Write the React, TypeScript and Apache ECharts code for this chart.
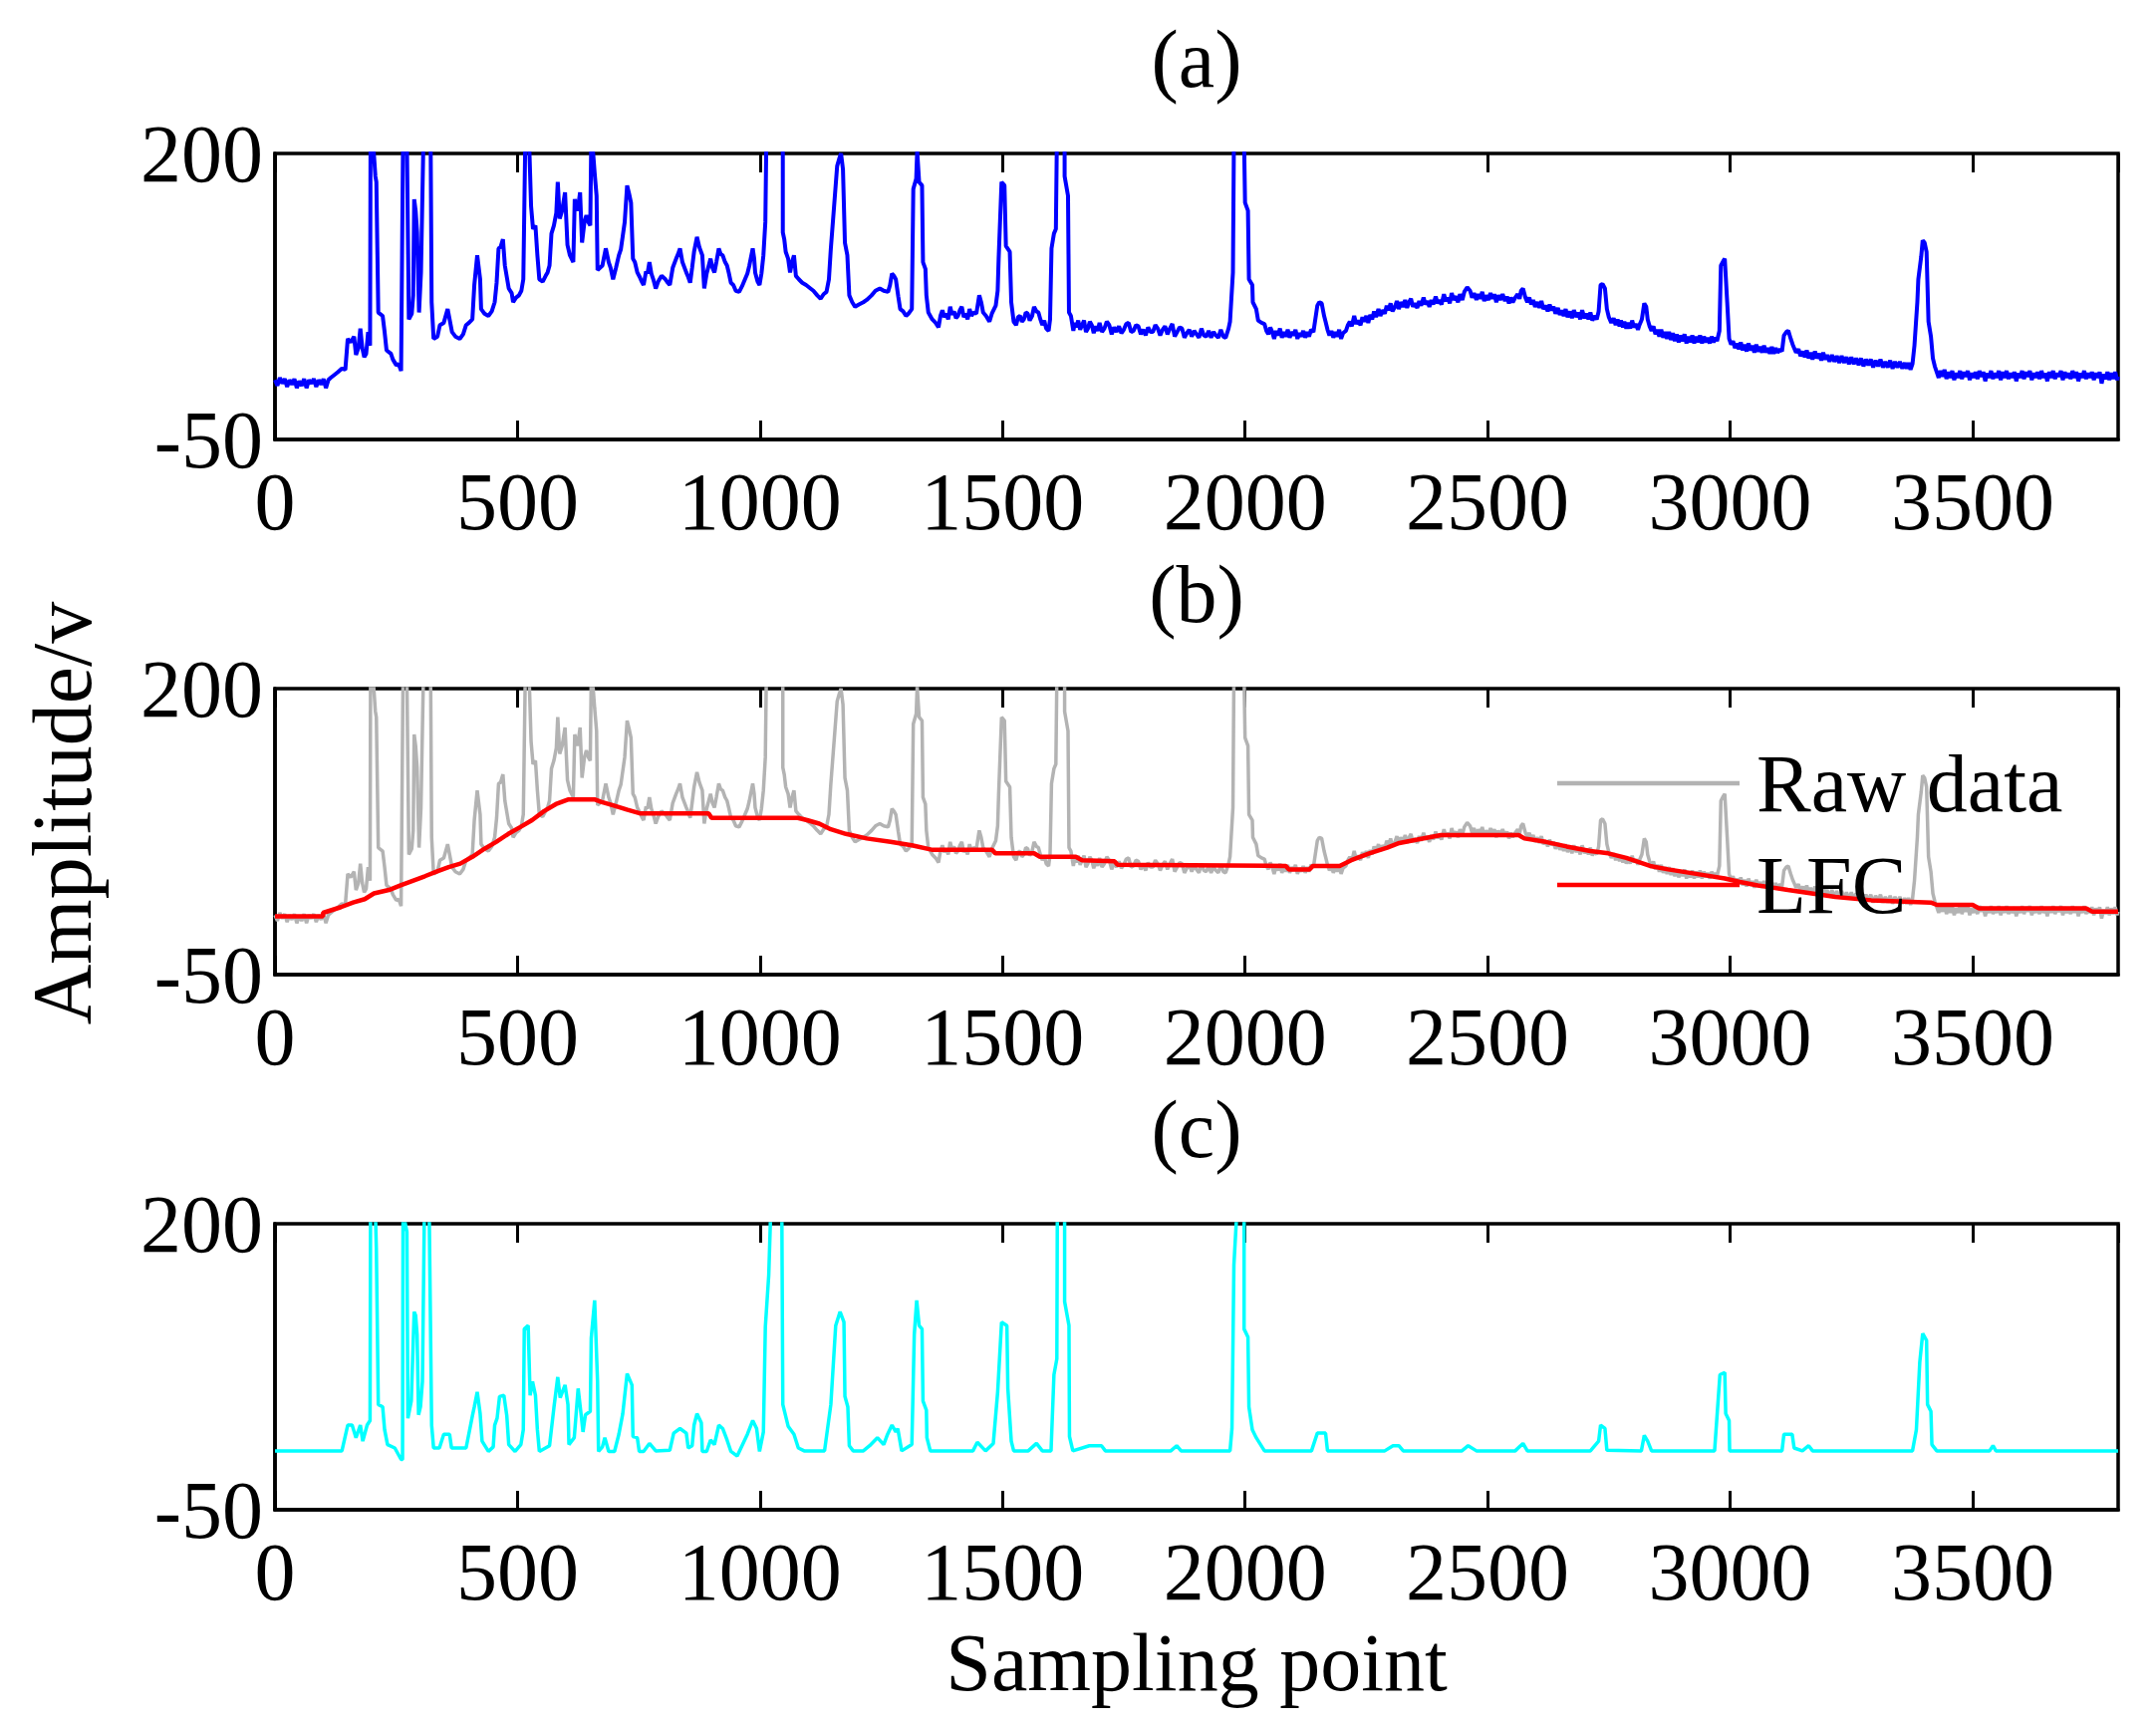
import React, { useEffect, useRef } from "react";
import * as echarts from "echarts";

const FONT = '"Liberation Serif", "Times New Roman", serif';
const FS = 82;

// x axis settings
const X_MIN = 0;
const X_MAX = 3800;
const X_STEP = 500;
const Y_MIN = -50;
const Y_MAX = 200;
const Y_LABELS = [-50, 200];

const panelTitles = ["(a)", "(b)", "(c)"];
const legendNames = ["Raw data", "LFC"];
const xAxisName = "Sampling point";
const yAxisName = "Amplitude/v";

// (a) raw signal: [sampling point, amplitude]
const rawData: [number, number][] = [
  [0, 2], [5, -3], [10, 4], [15, -1], [20, 3], [25, -4], [30, 2], [35, -2], [40, 3], [45, -5], [50, 1], [55, -3],
  [60, 3], [65, -5], [70, 2], [75, -1], [80, 3], [85, -4], [90, 2], [95, -2], [100, 3], [105, -5], [110, 2], [115, 4],
  [121, 6], [130, 9], [138, 12], [145, 11], [150, 38], [156, 35], [163, 40], [167, 24], [172, 30], [176, 47], [180, 30],
  [184, 22], [188, 25], [192, 44], [196, 32], [197, 210], [203, 205], [207, 180], [209, 175], [213, 61], [222, 58],
  [226, 44], [230, 28], [239, 25], [243, 20], [250, 15], [255, 16], [260, 10], [264, 210], [272, 210], [276, 55],
  [282, 60], [285, 76], [287, 160], [290, 150], [293, 131], [297, 61], [301, 96], [306, 210], [315, 210], [321, 205],
  [323, 70], [327, 38], [335, 40], [340, 50], [348, 52], [356, 64], [365, 44], [372, 40], [381, 38], [388, 42],
  [394, 50], [400, 52], [407, 55], [411, 85], [417, 111], [423, 90], [425, 64], [432, 60], [440, 58], [447, 62],
  [453, 70], [457, 87], [461, 117], [465, 118], [470, 125], [474, 102], [482, 82], [488, 78], [491, 70], [497, 74],
  [503, 76], [508, 80], [512, 90], [516, 210], [524, 210], [528, 154], [532, 134], [537, 137], [541, 111], [545, 90],
  [552, 88], [558, 93], [562, 96], [566, 102], [570, 130], [575, 137], [580, 148], [583, 175], [587, 143], [592, 150],
  [598, 166], [603, 120], [608, 111], [615, 105], [618, 160], [624, 150], [629, 166], [633, 122], [638, 140],
  [642, 146], [646, 140], [650, 137], [652, 210], [656, 200], [659, 183], [663, 163], [665, 98], [670, 100],
  [675, 102], [682, 117], [688, 105], [692, 100], [697, 90], [703, 100], [709, 111], [713, 116], [717, 128],
  [721, 140], [726, 172], [730, 165], [734, 157], [738, 108], [742, 105], [747, 96], [752, 92], [756, 88], [760, 85],
  [765, 97], [768, 95], [772, 105], [776, 95], [780, 90], [785, 82], [790, 88], [797, 93], [805, 90], [810, 87],
  [814, 85], [820, 100], [827, 108], [831, 112], [835, 117], [840, 105], [848, 96], [852, 92], [856, 87], [860, 100],
  [864, 114], [870, 127], [875, 118], [881, 111], [885, 82], [890, 95], [898, 108], [902, 100], [906, 96], [910, 105],
  [915, 117], [919, 112], [923, 111], [928, 105], [932, 102], [936, 95], [940, 87], [945, 85], [950, 80], [957, 79],
  [963, 84], [969, 90], [974, 95], [978, 102], [985, 117], [988, 108], [990, 96], [995, 88], [999, 85], [1003, 95],
  [1007, 111], [1011, 140], [1013, 210], [1030, 215], [1047, 205], [1047, 131], [1050, 125], [1053, 114], [1058, 108],
  [1062, 96], [1066, 105], [1070, 111], [1074, 93], [1080, 90], [1087, 87], [1095, 85], [1104, 82], [1110, 80],
  [1118, 76], [1125, 73], [1131, 77], [1137, 79], [1142, 90], [1146, 117], [1152, 150], [1159, 189], [1163, 195],
  [1167, 200], [1171, 186], [1175, 122], [1180, 111], [1184, 76], [1190, 70], [1196, 66], [1204, 68], [1213, 70],
  [1220, 72], [1230, 76], [1238, 80], [1247, 82], [1255, 80], [1264, 79], [1268, 85], [1272, 95], [1276, 93],
  [1280, 90], [1285, 75], [1289, 64], [1295, 62], [1301, 58], [1306, 60], [1313, 64], [1316, 169], [1322, 178],
  [1324, 202], [1328, 175], [1334, 172], [1336, 105], [1341, 99], [1343, 76], [1347, 61], [1355, 55], [1362, 52],
  [1368, 48], [1372, 58], [1376, 63], [1380, 57], [1384, 60], [1388, 55], [1392, 66], [1396, 59], [1400, 62],
  [1404, 56], [1408, 58], [1412, 63], [1416, 66], [1420, 57], [1424, 60], [1428, 55], [1432, 64], [1436, 58],
  [1440, 61], [1446, 60], [1452, 76], [1456, 70], [1460, 61], [1466, 58], [1473, 53], [1478, 60],
  [1486, 67], [1490, 80], [1492, 108], [1498, 175], [1504, 172], [1507, 119], [1515, 114], [1518, 70], [1523, 53],
  [1528, 50], [1532, 57], [1536, 58], [1540, 53], [1544, 55], [1548, 61], [1552, 60], [1556, 54], [1561, 58],
  [1565, 66], [1570, 62], [1574, 61], [1578, 55], [1582, 50], [1586, 54], [1590, 47], [1595, 45], [1598, 55],
  [1601, 117], [1606, 130], [1610, 134], [1612, 210], [1628, 210], [1628, 180],
  [1635, 163], [1637, 61], [1641, 58], [1646, 45], [1649, 52], [1652, 48], [1656, 54], [1660, 46], [1664, 50],
  [1668, 54], [1672, 44], [1676, 47], [1680, 53], [1684, 50], [1688, 43], [1692, 49], [1696, 45], [1700, 52],
  [1705, 44], [1710, 47], [1715, 53], [1720, 50], [1725, 42], [1730, 48], [1735, 44], [1740, 49], [1745, 43],
  [1750, 46], [1755, 51], [1760, 52], [1765, 44], [1770, 45], [1775, 50], [1780, 49], [1785, 42], [1790, 46],
  [1795, 41], [1800, 48], [1805, 44], [1810, 44], [1815, 50], [1820, 47], [1825, 41], [1830, 46], [1835, 49],
  [1840, 42], [1845, 47], [1850, 51], [1855, 40], [1860, 44], [1865, 48], [1870, 47], [1875, 39], [1880, 43],
  [1885, 46], [1890, 40], [1895, 45], [1900, 42], [1905, 39], [1910, 47], [1915, 41], [1920, 40], [1925, 45],
  [1930, 39], [1935, 44], [1940, 41], [1945, 39], [1950, 46], [1955, 40], [1960, 39], [1966, 47], [1969, 53],
  [1975, 96], [1977, 210], [1998, 210], [2000, 157], [2006, 150], [2008, 90],
  [2015, 85], [2016, 70], [2023, 64], [2027, 54], [2034, 52], [2040, 51], [2044, 45], [2048, 42], [2052, 48],
  [2056, 44], [2060, 38], [2064, 45], [2068, 41], [2072, 47], [2076, 39], [2080, 44], [2084, 40], [2088, 46],
  [2092, 39], [2096, 44], [2100, 41], [2104, 46], [2108, 38], [2112, 43], [2116, 40], [2120, 45], [2124, 39],
  [2128, 44], [2132, 40], [2136, 46], [2141, 44], [2149, 67], [2153, 70], [2158, 69], [2163, 58], [2166, 53],
  [2170, 46], [2174, 41], [2178, 45], [2182, 39], [2186, 44], [2190, 40], [2194, 46], [2198, 38], [2202, 43],
  [2208, 45], [2212, 50], [2216, 53], [2220, 49], [2225, 58], [2229, 51], [2233, 54], [2238, 50], [2242, 57],
  [2246, 53], [2250, 58], [2254, 52], [2258, 59], [2262, 55], [2266, 62], [2270, 57], [2275, 64], [2279, 58],
  [2283, 63], [2288, 60], [2292, 67], [2296, 63], [2300, 69], [2304, 62], [2309, 66], [2313, 71], [2317, 64],
  [2321, 70], [2326, 66], [2330, 72], [2334, 65], [2338, 70], [2342, 73], [2346, 66], [2350, 69], [2355, 65],
  [2359, 71], [2363, 67], [2368, 74], [2372, 68], [2376, 71], [2380, 66], [2384, 72], [2388, 68], [2393, 75],
  [2397, 69], [2400, 72], [2405, 68], [2410, 77], [2414, 71], [2418, 74], [2422, 69], [2426, 78], [2430, 72],
  [2435, 75], [2439, 70], [2443, 77], [2448, 72], [2452, 79], [2458, 83], [2464, 80], [2468, 74], [2472, 78],
  [2477, 72], [2481, 77], [2485, 73], [2489, 79], [2493, 71], [2497, 76], [2502, 72], [2506, 78], [2510, 73],
  [2514, 77], [2518, 70], [2522, 76], [2526, 72], [2531, 77], [2536, 71], [2540, 75], [2544, 69], [2548, 74],
  [2552, 70], [2557, 74], [2562, 77], [2566, 73], [2569, 80], [2573, 82], [2578, 74], [2582, 70], [2586, 74],
  [2590, 68], [2594, 72], [2598, 66], [2603, 70], [2607, 65], [2611, 71], [2615, 64], [2620, 67], [2624, 62],
  [2628, 68], [2632, 63], [2636, 66], [2640, 60], [2645, 65], [2649, 59], [2653, 63], [2657, 58], [2661, 64],
  [2665, 57], [2670, 62], [2674, 56], [2678, 63], [2683, 57], [2687, 61], [2691, 55], [2695, 63], [2700, 56],
  [2704, 60], [2708, 55], [2712, 61], [2716, 54], [2720, 58], [2725, 55], [2729, 62], [2733, 85], [2737, 86],
  [2742, 82], [2746, 64], [2750, 57], [2755, 52], [2760, 56], [2764, 50], [2768, 55], [2772, 49], [2775, 54],
  [2779, 48], [2782, 53], [2786, 47], [2790, 52], [2794, 47], [2798, 54], [2802, 48], [2806, 51], [2810, 46],
  [2813, 50], [2818, 55], [2823, 69], [2827, 66], [2830, 55], [2834, 49], [2838, 45], [2842, 49], [2846, 42],
  [2850, 46], [2854, 40], [2858, 46], [2862, 39], [2866, 44], [2870, 38], [2874, 44], [2878, 37], [2882, 43],
  [2886, 36], [2890, 42], [2894, 35], [2898, 41], [2902, 36], [2906, 42], [2910, 34], [2914, 40], [2918, 35],
  [2922, 41], [2926, 34], [2930, 40], [2934, 35], [2938, 41], [2942, 34], [2946, 40], [2950, 35], [2954, 39],
  [2958, 34], [2962, 40], [2966, 35], [2970, 39], [2973, 36], [2978, 45], [2981, 102], [2986, 106], [2989, 108],
  [2994, 70], [2998, 38], [3002, 33], [3006, 36], [3010, 30], [3014, 34], [3018, 29], [3022, 35], [3026, 28],
  [3030, 33], [3034, 27], [3038, 34], [3042, 28], [3046, 32], [3050, 26], [3054, 33], [3058, 27], [3062, 31],
  [3066, 26], [3070, 32], [3074, 26], [3078, 30], [3082, 25], [3086, 31], [3090, 25], [3094, 30], [3098, 26],
  [3103, 29], [3107, 27], [3111, 41], [3116, 44], [3120, 45], [3125, 38], [3129, 33], [3132, 30], [3136, 26],
  [3141, 29], [3145, 23], [3150, 27], [3154, 22], [3158, 28], [3162, 21], [3166, 26], [3170, 20], [3175, 27],
  [3179, 21], [3184, 25], [3188, 19], [3192, 26], [3196, 20], [3200, 24], [3205, 18], [3210, 24], [3215, 18],
  [3220, 23], [3225, 17], [3230, 23], [3235, 17], [3240, 22], [3245, 16], [3250, 22], [3255, 16], [3260, 21],
  [3265, 15], [3270, 21], [3275, 14], [3280, 20], [3285, 15], [3290, 20], [3295, 13], [3300, 19], [3305, 14],
  [3310, 20], [3315, 13], [3320, 18], [3325, 13], [3330, 19], [3335, 12], [3340, 18], [3345, 13], [3350, 18],
  [3355, 12], [3360, 17], [3364, 12], [3368, 17], [3372, 11], [3376, 16], [3380, 32], [3386, 70], [3388, 90],
  [3394, 110], [3397, 124], [3401, 122], [3405, 114], [3409, 53], [3414, 40], [3418, 21], [3422, 14], [3426, 9],
  [3430, 4], [3434, 10], [3438, 5], [3442, 11], [3446, 3], [3450, 9], [3454, 4], [3458, 10], [3462, 2], [3466, 8],
  [3470, 4], [3474, 10], [3478, 3], [3482, 9], [3486, 5], [3490, 10], [3494, 2], [3498, 8], [3502, 4], [3506, 9],
  [3510, 3], [3514, 10], [3518, 5], [3522, 9], [3526, 1], [3530, 8], [3534, 4], [3538, 10], [3542, 3], [3546, 8],
  [3550, 4], [3554, 10], [3558, 2], [3562, 9], [3566, 4], [3570, 10], [3574, 3], [3578, 8], [3582, 4], [3586, 9],
  [3590, 1], [3594, 8], [3598, 4], [3602, 10], [3606, 3], [3610, 9], [3614, 5], [3618, 10], [3622, 2], [3626, 8],
  [3630, 4], [3634, 9], [3638, 3], [3642, 10], [3646, 4], [3650, 8], [3654, 1], [3658, 9], [3662, 4], [3666, 10],
  [3670, 3], [3674, 8], [3678, 5], [3682, 10], [3686, 2], [3690, 9], [3694, 4], [3698, 8], [3702, 3], [3706, 10],
  [3710, 4], [3714, 9], [3718, 1], [3722, 8], [3726, 4], [3730, 10], [3734, 3], [3738, 8], [3742, 4], [3746, 9],
  [3750, 2], [3754, 8], [3758, 4], [3762, 9], [3766, -1], [3770, 7], [3774, 3], [3778, 9], [3782, 2], [3786, 8],
  [3790, 3], [3794, 9], [3798, 2], [3800, 5],
];

// (b) low-frequency component
const lfcData: [number, number][] = [
  [0, 1], [99, 1], [99, 4], [136, 9], [161, 13], [185, 16], [204, 21], [235, 24], [259, 28], [284, 32], [309, 36],
  [333, 40], [358, 44], [382, 47], [407, 53], [432, 60], [456, 66], [481, 73], [506, 79], [530, 85], [555, 93],
  [579, 99], [604, 103], [660, 103], [672, 101], [697, 98], [727, 94], [752, 91], [894, 91], [900, 87], [1078, 87],
  [1097, 85], [1122, 82], [1146, 77], [1177, 73], [1220, 69], [1269, 66], [1313, 63], [1356, 59], [1479, 59],
  [1485, 56], [1565, 56], [1577, 53], [1651, 53], [1664, 50], [1731, 49], [1737, 46], [2084, 45], [2090, 42],
  [2133, 42], [2140, 45], [2195, 45], [2219, 50], [2256, 56], [2293, 61], [2318, 65], [2355, 68], [2404, 72],
  [2564, 72], [2576, 69], [2620, 66], [2663, 62], [2712, 58], [2749, 56], [2786, 52], [2835, 45], [2872, 42],
  [2946, 37], [2989, 34], [3020, 31], [3057, 28], [3119, 24], [3168, 21], [3217, 18], [3291, 15], [3414, 13],
  [3426, 11], [3500, 11], [3513, 8], [3734, 8], [3747, 5], [3800, 5],
];

// (c) residual after LFC removal
const residualData: [number, number][] = [
  [0, 1.5], [138, 1.5], [150, 24], [159, 24], [167, 13], [176, 24], [181, 10], [190, 24], [196, 28], [197, 210],
  [207, 210], [209, 178], [213, 42], [222, 40], [226, 20], [232, 7], [247, 4], [260, -6], [263, -6], [264, 210],
  [272, 193], [274, 30], [281, 45], [287, 123], [290, 120], [293, 103], [296, 33], [300, 40], [304, 62], [308, 210],
  [318, 210], [323, 24], [327, 4], [339, 4], [348, 16], [360, 16], [364, 4], [394, 4], [407, 32], [411, 40],
  [417, 53], [423, 34], [427, 10], [440, 1], [450, 5], [453, 24], [458, 30], [463, 49], [472, 50], [478, 32],
  [482, 7], [495, 1], [507, 7], [512, 20], [514, 108], [522, 111], [526, 50], [531, 62], [537, 50], [541, 20],
  [545, 1], [566, 6], [575, 39], [583, 66], [588, 48], [598, 59], [604, 42], [606, 7], [617, 13], [625, 56],
  [632, 30], [635, 18], [640, 33], [650, 36], [652, 100], [659, 133], [665, 62], [667, 1], [675, 5], [680, 13],
  [688, 1], [700, 1], [709, 16], [717, 34], [726, 69], [736, 59], [738, 14], [747, 13], [751, 1], [760, 1],
  [772, 8], [785, 1.5], [814, 2], [822, 17], [835, 21], [848, 17], [852, 4], [860, 6], [864, 24], [870, 34],
  [879, 26], [881, 1], [890, 1], [898, 11], [906, 7], [915, 24], [923, 21], [932, 11], [940, 1], [953, -3],
  [974, 16], [985, 28], [993, 21], [999, 1], [1007, 18], [1011, 110], [1018, 155], [1022, 210], [1045, 210],
  [1047, 42], [1058, 23], [1070, 16], [1079, 4], [1091, 1.5], [1133, 1.5], [1146, 42], [1156, 111], [1165, 123],
  [1173, 114], [1175, 49], [1181, 40], [1184, 6], [1192, 1.5], [1213, 1.5], [1226, 6], [1242, 13], [1255, 7],
  [1263, 16], [1272, 24], [1280, 18], [1284, 21], [1292, 1.5], [1313, 7], [1318, 103], [1323, 133], [1328, 111],
  [1334, 108], [1336, 45], [1343, 37], [1344, 13], [1351, 1.5], [1439, 1.5], [1448, 9], [1465, 1.5], [1481, 8],
  [1490, 53], [1498, 114], [1509, 111], [1511, 56], [1518, 10], [1523, 1.5], [1553, 1.5], [1570, 8], [1582, 1.5],
  [1600, 1.5], [1606, 68], [1612, 82], [1613, 210], [1628, 210], [1628, 132], [1637, 111], [1638, 14], [1645, 1.5],
  [1679, 6], [1704, 6], [1712, 1.5], [1847, 1.5], [1859, 6], [1868, 1.5], [1969, 1.5], [1973, 21], [1977, 164],
  [1983, 210], [1998, 210], [1998, 108], [2006, 101], [2008, 40], [2015, 20], [2023, 13], [2040, 1.5], [2137, 1.5],
  [2149, 17], [2166, 17], [2170, 1.5], [2288, 1.5], [2305, 6], [2317, 6], [2326, 1.5], [2447, 1.5], [2460, 6],
  [2477, 1.5], [2557, 1.5], [2573, 8], [2582, 1.5], [2712, 1.5], [2729, 10], [2733, 24], [2742, 21], [2746, 2],
  [2817, 1.5], [2823, 15], [2830, 10], [2838, 1.5], [2968, 1.5], [2979, 68], [2989, 70], [2991, 34], [2998, 28],
  [2999, 1.5], [3107, 1.5], [3111, 16], [3128, 16], [3132, 4], [3149, 1.5], [3162, 6], [3170, 1.5], [3376, 1.5],
  [3384, 20], [3391, 79], [3397, 104], [3405, 98], [3407, 42], [3414, 36], [3416, 7], [3426, 1.5], [3535, 1.5],
  [3542, 6], [3548, 1.5], [3800, 1.5],
];

const GRID_LEFT = 276;
const GRID_WIDTH = 1850;
const GRID_HEIGHT = 287;
const GRID_TOPS = [154, 691, 1228];

export default function App() {
  const ref = useRef<HTMLDivElement>(null);

  useEffect(() => {
    document.body.style.margin = "0";
    if (!ref.current) return;
    const chart = echarts.init(ref.current, null, { renderer: "svg" });

    const textBase = { fontFamily: FONT, fontSize: FS, color: "#000" };

    const grids = GRID_TOPS.map((top) => ({
      left: GRID_LEFT,
      top,
      width: GRID_WIDTH,
      height: GRID_HEIGHT,
      show: true,
      borderColor: "#000",
      borderWidth: 3.5,
      backgroundColor: "transparent",
    }));

    const xAxes: any[] = [];
    GRID_TOPS.forEach((_, i) => {
      xAxes.push({
        type: "value",
        gridIndex: i,
        position: "bottom",
        min: X_MIN,
        max: X_MAX,
        interval: X_STEP,
        axisLine: { show: true, onZero: false, lineStyle: { color: "#000", width: 3.5 } },
        axisTick: { show: true, inside: true, length: 19, lineStyle: { color: "#000", width: 3 } },
        axisLabel: {
          ...textBase,
          margin: 21,
          showMaxLabel: false,
          hideOverlap: false,
          formatter: (v: number) => String(v),
        },
        splitLine: { show: false },
      });
      xAxes.push({
        type: "value",
        gridIndex: i,
        position: "top",
        min: X_MIN,
        max: X_MAX,
        interval: X_STEP,
        axisLine: { show: false, onZero: false },
        axisTick: { show: true, inside: true, length: 19, lineStyle: { color: "#000", width: 3 } },
        axisLabel: { show: false },
        splitLine: { show: false },
      });
    });

    const yAxes = GRID_TOPS.map((_, i) => ({
      type: "value",
      gridIndex: i,
      min: Y_MIN,
      max: Y_MAX,
      axisLine: { show: true, onZero: false, lineStyle: { color: "#000", width: 3.5 } },
      axisTick: { show: false },
      axisLabel: { ...textBase, margin: 12, customValues: Y_LABELS, formatter: (v: number) => String(v) },
      splitLine: { show: false },
    }));

    const lineSeries = (name: string | undefined, data: [number, number][], grid: number, color: string, width: number) => ({
      type: "line",
      name,
      data,
      xAxisIndex: grid * 2,
      yAxisIndex: grid,
      showSymbol: false,
      symbol: "none",
      clip: true,
      lineStyle: { color, width },
      itemStyle: { color },
      z: 3,
    });

    const centerX = GRID_LEFT + GRID_WIDTH / 2;
    const titleYs = GRID_TOPS.map((t) => t - 95);

    chart.setOption({
      animation: false,
      backgroundColor: "#fff",
      grid: grids,
      xAxis: xAxes,
      yAxis: yAxes,
      legend: {
        data: legendNames,
        orient: "vertical",
        left: 1558,
        top: 740,
        itemWidth: 183,
        itemHeight: 20,
        itemGap: 20,
        icon: "path://M0,0 L183,0 L183,4.5 L0,4.5 Z",
        textStyle: { ...textBase, padding: [0, 0, 0, 12] },
        backgroundColor: "transparent",
      },
      series: [
        lineSeries(undefined, rawData, 0, "#0000FF", 4),
        lineSeries(legendNames[0], rawData, 1, "#B3B3B3", 3.5),
        lineSeries(legendNames[1], lfcData, 1, "#FF0000", 4.5),
        lineSeries(undefined, residualData, 2, "#00FFFF", 3.5),
      ],
      graphic: [
        ...panelTitles.map((t, i) => ({
          type: "text",
          x: centerX,
          y: titleYs[i],
          style: { text: t, font: `${FS}px ${FONT}`, fill: "#000", align: "center", verticalAlign: "middle" },
        })),
        {
          type: "text",
          x: 1201,
          y: 1668,
          style: { text: xAxisName, font: `${FS}px ${FONT}`, fill: "#000", align: "center", verticalAlign: "middle" },
        },
        {
          type: "text",
          x: 62,
          y: 816,
          rotation: Math.PI / 2,
          style: { text: yAxisName, font: `${FS + 2}px ${FONT}`, fill: "#000", align: "center", verticalAlign: "middle" },
        },
      ],
    });

    return () => chart.dispose();
  }, []);

  return <div ref={ref} style={{ width: 2164, height: 1735 }} />;
}
